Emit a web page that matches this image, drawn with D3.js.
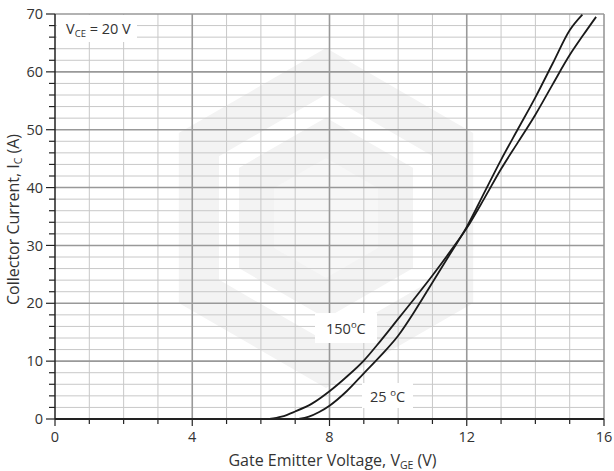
<!DOCTYPE html>
<html>
<head>
<meta charset="utf-8">
<script src="https://cdn.jsdelivr.net/npm/d3@7/dist/d3.min.js"></script>
<style>
  body { margin: 0; background: #fff; }
  text { font-family: "Open Sans", "Noto Sans", sans-serif; fill: #333; }
</style>
</head>
<body>
<script>
// Chart data
const xTicks = [0, 4, 8, 12, 16];
const yTicks = [0, 10, 20, 30, 40, 50, 60, 70];

// 150 degC curve: [V_GE, I_C]
const vge150 = [6.25, 6.6, 7.0, 7.5, 8.0, 8.5, 9.0, 9.5, 10.0, 10.5, 11.0, 11.5, 12.0, 12.5, 13.0, 13.5, 14.0, 14.5, 15.0, 15.4, 15.77];
const ic150  = [0, 0.4, 1.3, 2.7, 4.8, 7.3, 10.1, 13.6, 17.3, 21.0, 24.8, 28.8, 33.0, 38.0, 43.2, 47.9, 52.6, 57.8, 62.9, 66.4, 69.5];

// 25 degC curve
const vge25 = [7.1, 7.4, 7.7, 8.0, 8.5, 9.0, 9.5, 10.0, 10.5, 11.0, 11.5, 12.0, 12.5, 13.0, 13.5, 14.0, 14.5, 15.0, 15.37];
const ic25  = [0, 0.4, 1.2, 2.3, 4.8, 7.9, 11.0, 14.4, 18.8, 23.6, 28.4, 33.2, 39.0, 44.8, 50.2, 55.6, 61.4, 67.2, 69.9];

const margin = { top: 14, right: 10, bottom: 52, left: 55 };
const width = 614 - margin.left - margin.right;
const height = 471 - margin.top - margin.bottom;

const svg = d3.select("body")
    .append("svg")
    .attr("width", 614)
    .attr("height", 471);

// faint logo watermark behind the grid
const wm = svg.append("g").attr("transform", "translate(326,218)");
const hex = r => d3.range(6).map(k => {
    const a = Math.PI / 3 * k - Math.PI / 2;
    return [r * Math.cos(a), r * Math.sin(a)];
});
wm.append("polygon").attr("points", hex(170).join(" ")).attr("fill", "#f3f3f3");
wm.append("polygon").attr("points", hex(112).join(" "))
    .attr("fill", "none").attr("stroke", "#fff").attr("stroke-width", 20);
wm.append("polygon").attr("points", hex(60).join(" ")).attr("fill", "#f7f7f7");

const g = svg.append("g")
    .attr("transform", `translate(${margin.left},${margin.top})`);

const x = d3.scaleLinear().domain([0, 16]).range([0, width]);
const y = d3.scaleLinear().domain([0, 70]).range([height, 0]);

// minor grid
g.append("g")
    .selectAll("line")
    .data(d3.range(1, 16).filter(d => d % 4 !== 0))
    .enter().append("line")
    .attr("x1", d => x(d)).attr("x2", d => x(d))
    .attr("y1", 0).attr("y2", height)
    .attr("stroke", "#c8c8c8").attr("stroke-width", 1);

g.append("g")
    .selectAll("line")
    .data(d3.range(2, 70, 2).filter(d => d % 10 !== 0))
    .enter().append("line")
    .attr("x1", 0).attr("x2", width)
    .attr("y1", d => y(d)).attr("y2", d => y(d))
    .attr("stroke", "#c8c8c8").attr("stroke-width", 1);

// major grid
g.append("g")
    .selectAll("line")
    .data(xTicks.slice(1))
    .enter().append("line")
    .attr("x1", d => x(d)).attr("x2", d => x(d))
    .attr("y1", 0).attr("y2", height)
    .attr("stroke", "#999").attr("stroke-width", 1.6);

g.append("g")
    .selectAll("line")
    .data(yTicks.slice(1))
    .enter().append("line")
    .attr("x1", 0).attr("x2", width)
    .attr("y1", d => y(d)).attr("y2", d => y(d))
    .attr("stroke", "#999").attr("stroke-width", 1.6);

// temperature labels with white boxes
function label(bx, by, bw, bh, tx, ty, main, sup, tail) {
    svg.append("rect")
        .attr("x", bx).attr("y", by).attr("width", bw).attr("height", bh)
        .attr("fill", "#fff");
    const t = svg.append("text")
        .attr("x", tx).attr("y", ty)
        .style("font-size", "14.5px");
    t.append("tspan").text(main);
    t.append("tspan").attr("dy", -6).style("font-size", "9.5px").text(sup);
    t.append("tspan").attr("dy", 6).text(tail);
}

svg.append("rect")
    .attr("x", 57).attr("y", 15).attr("width", 80).attr("height", 27)
    .attr("fill", "#fff");
const vce = svg.append("text").attr("x", 66).attr("y", 34).style("font-size", "14.5px");
vce.append("tspan").text("V");
vce.append("tspan").attr("dy", 3).style("font-size", "9.5px").text("CE");
vce.append("tspan").attr("dy", -3).text(" = 20 V");

label(315, 313, 62, 30, 326, 334, "150", "o", "C");
label(362, 383, 51, 25, 370, 402, "25 ", "o", "C");

// curves
const line = d3.line()
    .x(d => x(d[0]))
    .y(d => y(d[1]))
    .curve(d3.curveMonotoneX);

const curves = [
    vge150.map((v, i) => [v, ic150[i]]),
    vge25.map((v, i) => [v, ic25[i]])
];

g.selectAll("path.curve")
    .data(curves)
    .enter().append("path")
    .attr("class", "curve")
    .attr("d", line)
    .attr("fill", "none")
    .attr("stroke", "#1a1a1a")
    .attr("stroke-width", 1.8);

// axes
const yAxis = g.append("g");
yAxis.selectAll("line")
    .data(d3.range(0, 71, 2))
    .enter().append("line")
    .attr("x1", d => d % 10 === 0 ? -9 : -6).attr("x2", 0)
    .attr("y1", d => y(d)).attr("y2", d => y(d))
    .attr("stroke", "#222").attr("stroke-width", 1.2);
yAxis.append("line")
    .attr("x1", 0).attr("x2", 0).attr("y1", 0).attr("y2", height)
    .attr("stroke", "#222").attr("stroke-width", 1.5);
yAxis.selectAll("text")
    .data(yTicks)
    .enter().append("text")
    .attr("x", -12)
    .attr("y", d => y(d))
    .attr("dy", "0.35em")
    .attr("text-anchor", "end")
    .style("font-size", "14.5px")
    .text(d => d);

const xAxis = g.append("g").attr("transform", `translate(0,${height})`);
xAxis.selectAll("line")
    .data(d3.range(0, 17))
    .enter().append("line")
    .attr("x1", d => x(d)).attr("x2", d => x(d))
    .attr("y1", 0).attr("y2", d => d % 4 === 0 ? 7 : 5)
    .attr("stroke", "#222").attr("stroke-width", 1.2);
xAxis.append("line")
    .attr("x1", 0).attr("x2", width).attr("y1", 0).attr("y2", 0)
    .attr("stroke", "#222").attr("stroke-width", 2.2);
xAxis.selectAll("text")
    .data(xTicks)
    .enter().append("text")
    .attr("x", d => x(d))
    .attr("y", 23)
    .attr("text-anchor", "middle")
    .style("font-size", "14.5px")
    .text(d => d);

// axis titles
const xt = svg.append("text")
    .attr("x", margin.left + width / 2 + 3)
    .attr("y", 466)
    .attr("text-anchor", "middle")
    .style("font-size", "16px");
xt.append("tspan").text("Gate Emitter Voltage, V");
xt.append("tspan").attr("dy", 3).style("font-size", "10.5px").text("GE");
xt.append("tspan").attr("dy", -3).text(" (V)");

const yt = svg.append("text")
    .attr("transform", `translate(19,${margin.top + height / 2 + 3}) rotate(-90)`)
    .attr("text-anchor", "middle")
    .style("font-size", "16px");
yt.append("tspan").text("Collector Current, I");
yt.append("tspan").attr("dy", 3).style("font-size", "10.5px").text("C");
yt.append("tspan").attr("dy", -3).text(" (A)");
</script>
</body>
</html>
